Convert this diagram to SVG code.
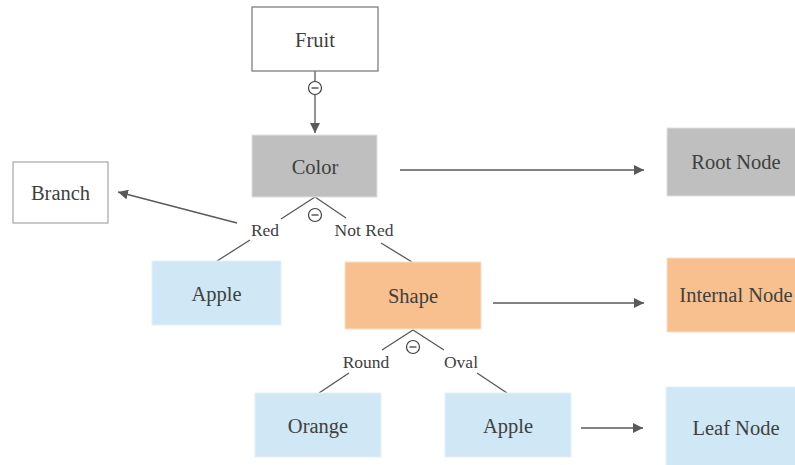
<svg xmlns="http://www.w3.org/2000/svg" width="795" height="465" viewBox="0 0 795 465">
  <defs>
    <marker id="arrow" viewBox="0 0 10 10" refX="10" refY="5" markerWidth="10" markerHeight="10" markerUnits="userSpaceOnUse" orient="auto">
      <path d="M0,0 L10,5 L0,10 Z" fill="#595959"/>
    </marker>
  </defs>
  <style>
    text { font-family: "Liberation Serif", "Times New Roman", "DejaVu Serif", serif; fill: #404040; text-anchor: middle; dominant-baseline: central; }
    .lbl { font-size: 20.5px; }
    .elbl { font-size: 17.5px; }
    .edge { stroke: #595959; stroke-width: 1.3; fill: none; }
    .arrow { stroke: #595959; stroke-width: 1.3; fill: none; marker-end: url(#arrow); }
    .toggle { fill: #ffffff; stroke: #404040; stroke-width: 1.2; }
    .minus { stroke: #404040; stroke-width: 1.3; }
    .root { fill: #bfbfbf; stroke: #e0e0e0; stroke-width: 1; }
    .inner { fill: #f9c08f; stroke: #fbe0c8; stroke-width: 1; }
    .leaf { fill: #d0e8f5; stroke: #e4f1f9; stroke-width: 1; }
  </style>

  <!-- connectors -->
  <g id="connectors">
    <line class="arrow" x1="315" y1="71" x2="315" y2="133"/>
    <line class="arrow" x1="237" y1="223" x2="118" y2="192"/>
    <polyline class="edge" points="281,219 315,197 346,218"/>
    <line class="edge" x1="250" y1="240" x2="217" y2="261"/>
    <line class="edge" x1="381" y1="243" x2="412" y2="262"/>
    <polyline class="edge" points="382,350 413,330 444,350"/>
    <line class="edge" x1="349" y1="373" x2="319" y2="393"/>
    <line class="edge" x1="477" y1="373" x2="507" y2="393"/>
    <line class="arrow" x1="400" y1="170" x2="644" y2="170"/>
    <line class="arrow" x1="493" y1="303" x2="644" y2="303"/>
    <line class="arrow" x1="581" y1="428" x2="643" y2="428"/>

    <!-- collapse toggles -->
    <g id="toggle-fruit">
      <circle class="toggle" cx="315" cy="88" r="6.5"/>
      <line class="minus" x1="311.5" y1="88" x2="318.5" y2="88"/>
    </g>
    <g id="toggle-color">
      <circle class="toggle" cx="315" cy="215" r="6.5"/>
      <line class="minus" x1="311.5" y1="215" x2="318.5" y2="215"/>
    </g>
    <g id="toggle-shape">
      <circle class="toggle" cx="413" cy="347" r="6.5"/>
      <line class="minus" x1="409.5" y1="347" x2="416.5" y2="347"/>
    </g>

    <text class="elbl" x="265" y="230">Red</text>
    <text class="elbl" x="364" y="230">Not Red</text>
    <text class="elbl" x="366" y="362">Round</text>
    <text class="elbl" x="461" y="362">Oval</text>
  </g>

  <!-- nodes -->
  <g id="fruit">
    <rect x="252" y="7" width="126" height="64" fill="#ffffff" stroke="#7f7f7f" stroke-width="1.3"/>
    <text class="lbl" x="315" y="40">Fruit</text>
  </g>
  <g id="color">
    <rect class="root" x="252" y="135" width="125" height="62"/>
    <text class="lbl" x="315" y="167">Color</text>
  </g>
  <g id="branch">
    <rect x="13" y="162" width="95" height="61" fill="#ffffff" stroke="#a6a6a6" stroke-width="1.2"/>
    <text class="lbl" x="60.5" y="193">Branch</text>
  </g>
  <g id="apple-red">
    <rect class="leaf" x="152" y="261" width="129" height="64"/>
    <text class="lbl" x="216.5" y="294">Apple</text>
  </g>
  <g id="shape">
    <rect class="inner" x="345" y="262" width="136" height="67"/>
    <text class="lbl" x="413" y="296">Shape</text>
  </g>
  <g id="orange">
    <rect class="leaf" x="255" y="393" width="126" height="64"/>
    <text class="lbl" x="318" y="426">Orange</text>
  </g>
  <g id="apple-oval">
    <rect class="leaf" x="445" y="393" width="126" height="64"/>
    <text class="lbl" x="508" y="426">Apple</text>
  </g>
  <g id="root-node">
    <rect class="root" x="667" y="128" width="132" height="68"/>
    <text class="lbl" x="736" y="162">Root Node</text>
  </g>
  <g id="internal-node">
    <rect class="inner" x="667" y="258" width="132" height="74"/>
    <text class="lbl" x="736" y="295">Internal Node</text>
  </g>
  <g id="leaf-node">
    <rect class="leaf" x="666" y="387" width="133" height="80"/>
    <text class="lbl" x="736" y="428">Leaf Node</text>
  </g>
</svg>
